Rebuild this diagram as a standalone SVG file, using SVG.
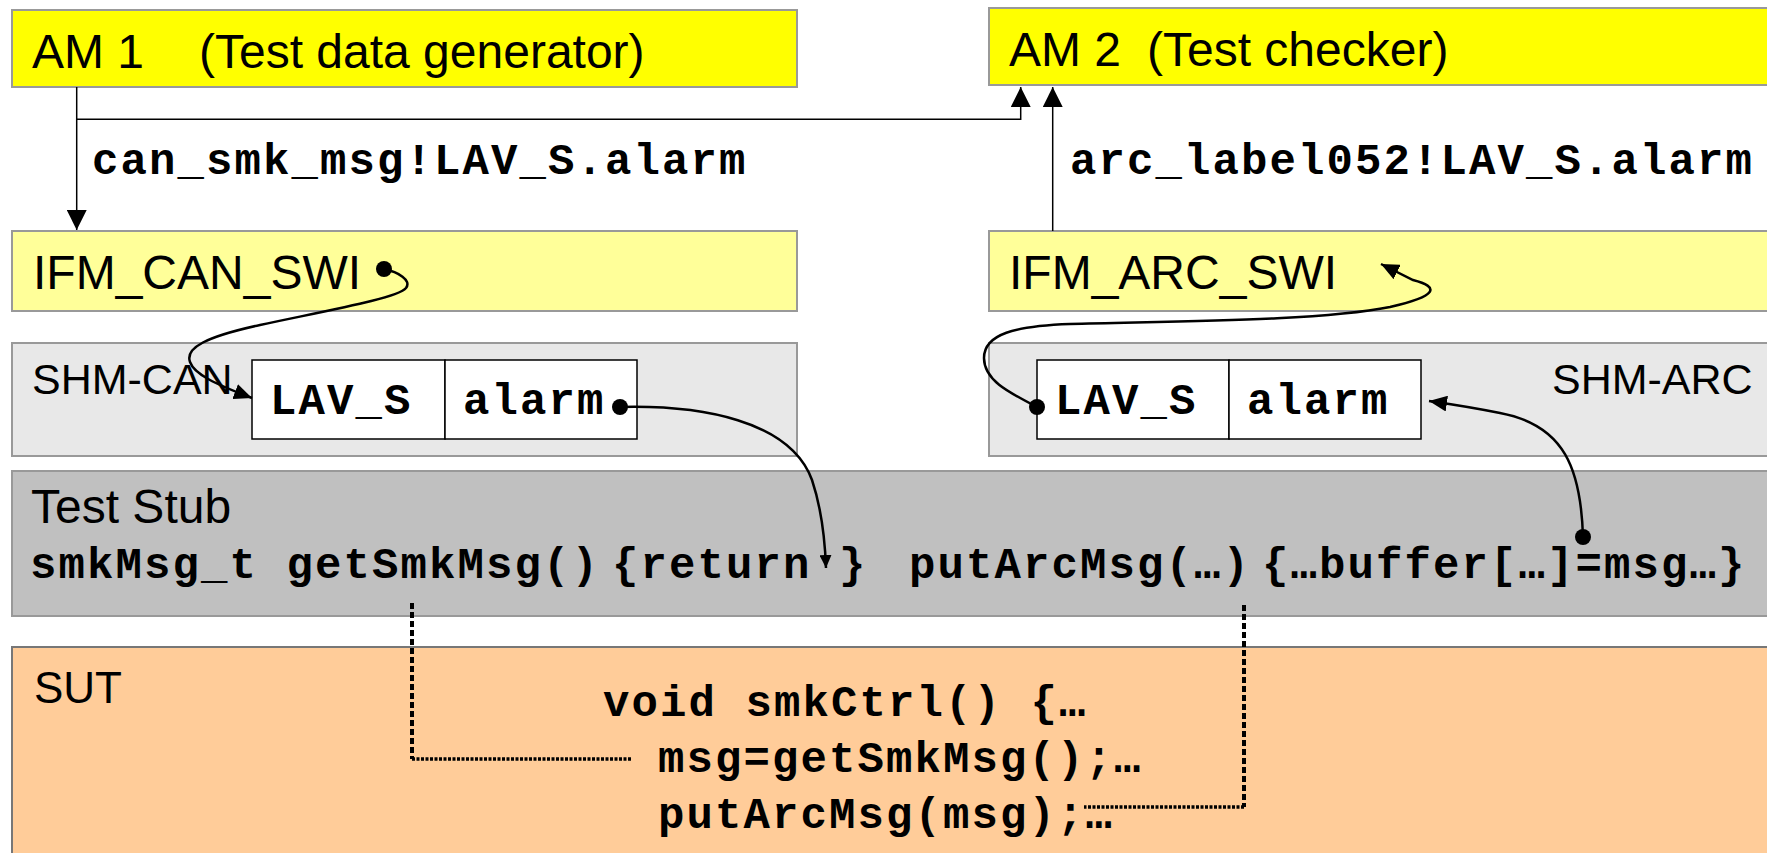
<svg xmlns="http://www.w3.org/2000/svg" width="1767" height="853" viewBox="0 0 1767 853">
<defs>
<style>
.box{stroke:#999;stroke-width:2}
.sans{font-family:"Liberation Sans",Arial,sans-serif;fill:#000}
.big{font-size:48px}
.mid{font-size:43px}
.mono{font-family:"Liberation Mono","Courier New",monospace;font-weight:bold;font-size:44px;letter-spacing:2.1px;fill:#000}
.ln{fill:none;stroke:#000;stroke-width:1.5}
.cv{fill:none;stroke:#000;stroke-width:2.5}
.dt{fill:none;stroke:#000}
.cell{fill:#fff;stroke:#000;stroke-width:1.5}
</style>
<marker id="a" markerUnits="userSpaceOnUse" markerWidth="20" markerHeight="20" refX="20" refY="10" orient="auto"><path d="M0,0 L20,10 L0,20 z" fill="#000"/></marker>
<marker id="c" markerUnits="userSpaceOnUse" markerWidth="18" markerHeight="16" refX="18" refY="8" orient="auto"><path d="M0,0 L18,8 L0,16 z" fill="#000"/></marker>
<marker id="s" markerUnits="userSpaceOnUse" markerWidth="13" markerHeight="12" refX="13" refY="6" orient="auto"><path d="M0,0 L13,6 L0,12 z" fill="#000"/></marker>
</defs>
<rect width="1767" height="853" fill="#fff"/>

<g id="am1">
<rect class="box" x="12" y="10" width="785" height="77" fill="#ffff00"/>
<text class="sans big" x="32" y="68">AM 1<tspan x="199">(Test data generator)</tspan></text>
</g>
<g id="am2">
<rect class="box" x="989" y="8" width="800" height="77" fill="#ffff00"/>
<text class="sans big" x="1009" y="66">AM 2<tspan x="1147">(Test checker)</tspan></text>
</g>
<g id="ifm-can">
<rect class="box" x="12" y="231" width="785" height="80" fill="#ffff99"/>
<text class="sans big" x="33" y="289">IFM_CAN_SWI</text>
</g>
<g id="ifm-arc">
<rect class="box" x="989" y="231" width="800" height="80" fill="#ffff99"/>
<text class="sans big" x="1009" y="289">IFM_ARC_SWI</text>
</g>
<g id="shm-can">
<rect class="box" x="12" y="343" width="785" height="113" fill="#e8e8e8"/>
<text class="sans mid" x="32" y="394">SHM-CAN</text>
<rect class="cell" x="252" y="360" width="193" height="79"/>
<rect class="cell" x="445" y="360" width="192" height="79"/>
<text class="mono" x="270" y="414">LAV_S</text>
<text class="mono" x="463" y="414">alarm</text>
</g>
<g id="shm-arc">
<rect class="box" x="989" y="343" width="800" height="113" fill="#e8e8e8"/>
<text class="sans mid" x="1552" y="394">SHM-ARC</text>
<rect class="cell" x="1037" y="360" width="192" height="79"/>
<rect class="cell" x="1229" y="360" width="192" height="79"/>
<text class="mono" x="1055" y="414">LAV_S</text>
<text class="mono" x="1247" y="414">alarm</text>
</g>
<g id="test-stub">
<rect class="box" x="12" y="471" width="1780" height="145" fill="#c0c0c0"/>
<text class="sans big" x="31" y="523">Test Stub</text>
<text class="mono" x="30" y="578">smkMsg_t getSmkMsg()<tspan x="612">{return</tspan><tspan x="839">}</tspan></text>
<text class="mono" x="909" y="578">putArcMsg(…)<tspan x="1262">{…buffer[…]=msg…}</tspan></text>
</g>
<g id="sut">
<rect x="12" y="647" width="1780" height="230" fill="#ffcc99" stroke="#777" stroke-width="2"/>
<text class="sans" font-size="44" x="34" y="703">SUT</text>
<text class="mono" x="603" y="716">void smkCtrl() {…</text>
<text class="mono" x="658" y="772">msg=getSmkMsg();…</text>
<text class="mono" x="658" y="828">putArcMsg(msg);…</text>
</g>

<g id="connectors">
<path class="ln" d="M76.7,87 V230" marker-end="url(#a)"/>
<path class="ln" d="M76.7,119.3 H1020.7 V87" marker-end="url(#a)"/>
<path class="ln" d="M1052.7,231 V87" marker-end="url(#a)"/>
<text class="mono" x="92" y="174">can_smk_msg!LAV_S.alarm</text>
<text class="mono" x="1070" y="174">arc_label052!LAV_S.alarm</text>

<circle cx="384" cy="269" r="8"/>
<path class="cv" d="M384,269 C398,272 412,280 406,288 C398,298 330,310 260,325 C205,337 185,348 190,362 C194,374 215,384 252,398" marker-end="url(#c)"/>

<circle cx="620" cy="407" r="8"/>
<path class="cv" d="M620,407 C700,405 790,420 812,480 C822,510 825,540 826,568" marker-end="url(#s)"/>

<circle cx="1037" cy="407" r="8"/>
<path class="cv" d="M1037,407 C1008,392 984,380 984,358 C984,334 1015,326 1070,324 C1180,321 1320,321 1390,307 C1438,296 1440,287 1413,280 L1381,264" marker-end="url(#c)"/>

<circle cx="1583" cy="537" r="8"/>
<path class="cv" d="M1583,537 C1581,470 1565,425 1500,413 C1470,407 1450,404 1429,401" marker-end="url(#c)"/>

<path class="dt" d="M412,603 V759" stroke-width="4" stroke-dasharray="6 3"/>
<path class="dt" d="M412,759 H631" stroke-width="3.5" stroke-dasharray="3 1.5"/>
<path class="dt" d="M1244,605 V807" stroke-width="4" stroke-dasharray="6 3"/>
<path class="dt" d="M1244,807 H1084" stroke-width="3.5" stroke-dasharray="3 1.5"/>
</g>
</svg>
